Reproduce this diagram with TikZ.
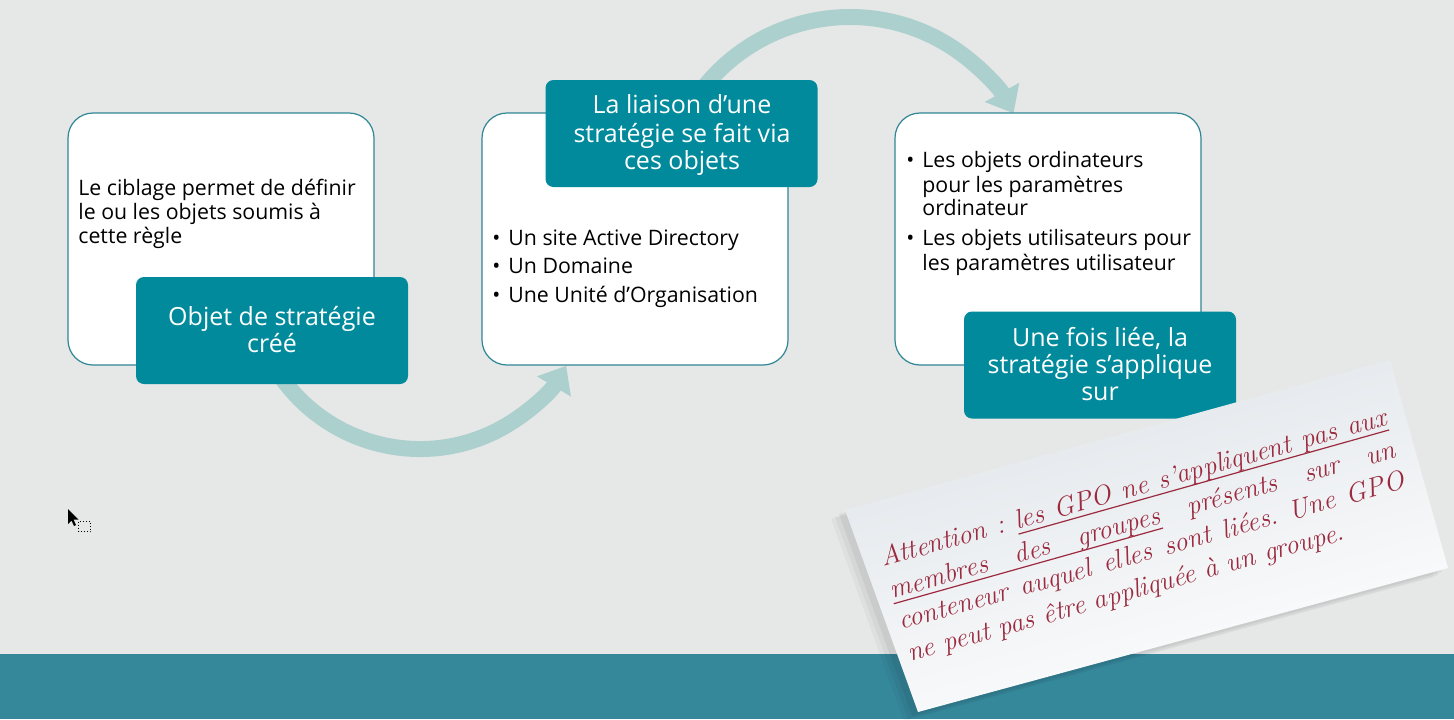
\documentclass[tikz,border=0pt]{standalone}
\usepackage{fontspec}
\newfontfamily\uifont{Open Sans}
\usetikzlibrary{arrows.meta,calc}
\definecolor{bgcol}{HTML}{E6E7E7}
\definecolor{bandcol}{HTML}{35879A}
\definecolor{cardline}{HTML}{2F8696}
\definecolor{tagfill}{HTML}{008A9C}
\definecolor{arrowcol}{HTML}{ACD0CD}
\definecolor{notered}{HTML}{9C2A3F}
\definecolor{papertop}{HTML}{DFE4E9}
\newcommand{\ulsp}{\leaders\hrule height -2.2pt depth 2.8pt\hskip 0.24em plus 1fil minus 0.1em\relax}
\newcommand{\plsp}{\hskip 0.24em plus 1fil minus 0.1em\relax}
\newcommand{\ulw}[1]{\setbox0=\hbox{#1}\rlap{\vrule height -2.2pt depth 2.8pt width \wd0}\box0}
\tikzset{
  card/.style={draw=cardline, line width=0.6pt, fill=white, rounded corners=12.5pt,
    minimum width=153pt, minimum height=126pt, inner sep=0pt},
  tagbox/.style={fill=tagfill, rounded corners=4pt, minimum width=136pt,
    minimum height=53.5pt, inner sep=0pt},
  bigarrow/.style={draw=arrowcol, line width=8pt, -{Triangle[length=12pt,width=19pt]}},
  body/.style={font=\uifont\fontsize{10.65}{12}\selectfont, text=black, inner sep=0pt, anchor=base west},
  tagtext/.style={font=\uifont\fontsize{12.5}{14}\selectfont, text=white, inner sep=0pt, anchor=base},
  notetext/.style={font=\fontsize{13.6}{15}\selectfont\itshape, text=notered, inner sep=0pt,
    anchor=base west, rotate=15.7},
}
\begin{document}
\begin{tikzpicture}[x=0.5pt,y=-0.5pt]
\useasboundingbox (0,0) rectangle (1454,719);
\fill[bgcol] (0,0) rectangle (1454,719);
\fill[bandcol] (0,654) rectangle (1454,719);

% curved arrows
\coordinate (a1s) at ($(420,279)+(150:170)$);
\coordinate (a2s) at ($(850,204)+(215:187)$);
\draw[bigarrow] (a1s) arc[start angle=150, end angle=30.7, radius=170];
\draw[bigarrow] (a2s) arc[start angle=215, end angle=331, radius=187];

% cards
\node[card] (box1) at (221,239) {};
\node[card] (box2) at (635,239) {};
\node[card] (box3) at (1048,239) {};

% tags
\node[tagbox] (tag1) at (272,330.5) {};
\node[tagbox] (tag2) at (681.5,133.5) {};
\node[tagbox] (tag3) at (1100,365) {};

% card texts
\node[body] (t11) at (78,195) {Le ciblage permet de définir};
\node[body] (t12) at (78,219) {le ou les objets soumis à};
\node[body] (t13) at (78,243) {cette règle};

\node[body] (b21) at (492,245) {•};
\node[body] (t21) at (508,245) {Un site Active Directory};
\node[body] (b22) at (492,273) {•};
\node[body] (t22) at (508,273) {Un Domaine};
\node[body] (b23) at (492,302) {•};
\node[body] (t23) at (508,302) {Une Unité d’Organisation};

\node[body] (b31) at (906,167) {•};
\node[body] (t31) at (922,167) {Les objets ordinateurs};
\node[body] (t32) at (922,192) {pour les paramètres};
\node[body] (t33) at (922,215) {ordinateur};
\node[body] (b34) at (906,245) {•};
\node[body] (t34) at (922,245) {Les objets utilisateurs pour};
\node[body] (t35) at (922,270) {les paramètres utilisateur};

% tag texts
\node[tagtext] (g11) at (272,325) {Objet de stratégie};
\node[tagtext] (g12) at (272,352) {créé};
\node[tagtext] (g21) at (682,113) {La liaison d’une};
\node[tagtext] (g22) at (682,142) {stratégie se fait via};
\node[tagtext] (g23) at (682,169) {ces objets};
\node[tagtext] (g31) at (1100,346) {Une fois liée, la};
\node[tagtext] (g32) at (1100,373) {stratégie s’applique};
\node[tagtext] (g33) at (1100,400) {sur};

% note paper with shadow
\foreach \dx/\dy/\op in {-14/9/0.03,-10/7/0.04,-6/4/0.05}{
  \fill[black, opacity=\op] (845+\dx,510+\dy) -- (1390+\dx,360+\dy) -- (1448+\dx,568+\dy) -- (918+\dx,712+\dy) -- cycle;
}
\shade[top color=papertop, bottom color=white, shading angle=15.7]
  (845,510) -- (1390,360) -- (1448,568) -- (918,712) -- cycle;

\node[notetext] (n1) at (883,567) {\hbox to 262pt{Attention\plsp:\plsp\ulw{les}\ulsp\ulw{GPO}\ulsp\ulw{ne}\ulsp\ulw{s’appliquent}\ulsp\ulw{pas}\ulsp\ulw{aux}}};
\node[notetext] (n2) at (892,599) {\hbox to 262pt{\ulw{membres}\ulsp\ulw{des}\ulsp\ulw{groupes}\plsp présents\plsp sur\plsp un}};
\node[notetext] (n3) at (901,630) {\hbox to 262pt{conteneur\plsp auquel\plsp elles\plsp sont\plsp liées.\plsp Une\plsp GPO}};
\node[notetext] (n4) at (910,662) {ne peut pas être appliquée à un groupe.};

% mouse cursor
\fill[black] (68,509) -- (68,524) -- (71.5,520.5) -- (74,526) -- (76,525) -- (73.5,519.5) -- (78.5,519.5) -- cycle;
\draw[black, densely dotted, line width=0.5pt] (78.5,521.5) rectangle (90.5,531.5);
\end{tikzpicture}
\end{document}
